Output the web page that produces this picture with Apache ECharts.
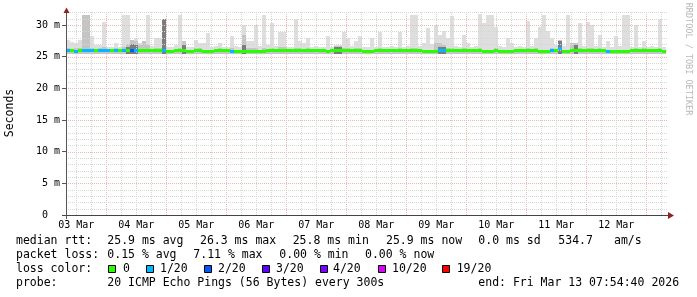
<!DOCTYPE html>
<html><head><meta charset="utf-8">
<script src="https://cdn.jsdelivr.net/npm/echarts@6/dist/echarts.min.js"></script>
<style>html,body{margin:0;padding:0;background:#fff}#c{width:697px;height:297px}</style>
</head><body><div id="c"></div>
<script>
// ---- time frame (hours since 03 Mar 00:00) ----
const startHour = 7 + 54/60 + 40/3600;   // 03 Mar 07:54:40
const spanHours = 240;                    // 10 days
const slotHours = 1.6;                    // 96-minute buckets
const yMax = 32.1;
const dayLabels = ['03 Mar','04 Mar','05 Mar','06 Mar','07 Mar','08 Mar','09 Mar','10 Mar','11 Mar','12 Mar'];
const yTicks = [0,5,10,15,20,25,30];

// ---- smoke (ms) per bucket ----
const smokeMax = [
27.6,27.3,27.2,27.6,31.6,31.6,28.2,26.8,26.9,30.5,
26.6,26.6,27.1,26.6,31.6,31.6,27.6,27.9,27.1,27.4,
31.6,26.7,28.0,28.0,30.9,26.6,26.6,26.8,31.6,27.4,
26.6,26.6,27.7,27.1,27.1,28.7,26.6,26.7,27.1,26.6,
26.6,28.2,26.7,26.6,30.0,27.4,27.4,30.0,26.7,31.6,
26.8,30.3,26.7,28.9,28.9,26.6,26.6,31.0,27.4,27.2,
27.9,26.6,26.7,26.6,26.6,28.2,26.6,26.9,26.8,28.9,
27.9,26.7,27.4,28.2,26.6,26.6,27.9,26.6,28.9,26.6,
26.6,26.7,26.6,28.9,26.6,26.7,31.6,31.6,26.7,27.1,
29.5,27.0,30.0,28.4,29.0,27.9,31.4,26.7,26.6,28.4,
27.1,26.6,26.7,31.7,30.3,31.6,31.6,29.7,26.7,26.6,
27.9,27.1,26.6,26.7,26.6,30.6,26.7,27.9,29.7,31.6,
29.0,28.0,26.8,27.7,26.7,31.6,27.1,27.1,30.3,26.7,
30.5,30.0,26.7,28.4,26.6,27.4,26.6,28.2,26.7,31.6,
31.6,26.6,30.0,26.6,27.4,26.6,26.7,26.6,31.0,26.6];
const smokeMid = [
26.3,26.2,26.3,26.3,31.6,31.6,26.4,26.2,26.3,26.6,
26.2,26.2,26.3,26.2,26.5,27.0,27.6,27.4,26.8,27.4,
26.8,26.2,26.4,26.4,30.9,26.0,26.0,26.2,26.3,27.4,
26.0,26.0,26.3,26.3,26.0,26.0,26.0,26.2,26.3,26.2,
26.2,26.4,26.1,26.1,28.5,26.4,26.3,26.3,26.1,26.3,
26.2,26.3,26.2,26.5,26.5,26.2,26.2,26.3,26.3,26.2,
26.3,26.2,26.2,26.2,26.2,26.0,26.2,26.7,26.7,26.4,
26.3,26.2,26.3,26.3,26.0,26.0,26.0,26.2,26.3,26.2,
26.2,26.2,26.2,26.3,26.2,26.2,26.4,26.4,26.2,26.0,
26.0,26.0,27.1,27.1,26.9,26.3,26.3,26.2,26.2,26.3,
26.2,26.2,26.2,26.4,26.0,26.0,26.0,26.3,26.0,26.0,
26.0,26.0,26.2,26.2,26.2,26.4,26.2,26.3,26.0,26.0,
26.0,26.3,26.2,27.7,26.0,26.0,27.1,27.1,26.3,26.2,
26.3,26.3,26.2,26.3,26.2,26.0,26.0,26.0,26.0,26.0,
26.0,26.2,26.3,26.2,26.3,26.2,26.2,26.2,26.3,26.0];
const smokeDeep = [
0,0,0,0,0,0,0,0,0,0,
0,0,0,0,0,26.6,27.0,26.8,0,0,
0,0,0,0,30.9,0,0,0,0,26.9,
0,0,0,0,0,0,0,0,0,0,
0,0,0,0,26.8,0,0,0,0,0,
0,0,0,0,0,0,0,0,0,0,
0,0,0,0,0,0,0,26.5,26.5,0,
0,0,0,0,0,0,0,0,0,0,
0,0,0,0,0,0,0,0,0,0,
0,0,0,26.6,26.5,0,0,0,0,0,
0,0,0,0,0,0,0,0,0,0,
0,0,0,0,0,0,0,0,0,0,
0,0,0,27.5,0,0,0,26.8,0,0,
0,0,0,0,0,0,0,0,0,0,
0,0,0,0,0,0,0,0,0,0];
const smokeMin = [
25.5,25.5,25.4,25.5,25.5,25.5,25.5,25.5,25.5,25.5,
25.5,25.5,25.5,25.5,25.5,25.5,25.5,25.5,25.5,25.5,
25.5,25.5,25.5,25.5,25.5,25.4,25.4,25.5,25.5,25.5,
25.4,25.4,25.5,25.5,25.4,25.4,25.4,25.5,25.5,25.5,
25.5,25.5,25.5,25.5,25.5,25.5,25.5,25.5,25.5,25.5,
25.5,25.5,25.5,25.5,25.5,25.5,25.5,25.5,25.5,25.5,
25.5,25.5,25.5,25.5,25.5,25.4,25.5,25.5,25.5,25.5,
25.5,25.5,25.5,25.5,25.4,25.4,25.4,25.5,25.5,25.5,
25.5,25.5,25.5,25.5,25.5,25.5,25.5,25.5,25.5,25.4,
25.4,25.4,25.4,25.5,25.5,25.5,25.5,25.5,25.5,25.5,
25.5,25.5,25.5,25.5,25.4,25.4,25.4,25.5,25.4,25.4,
25.4,25.4,25.5,25.5,25.5,25.5,25.5,25.5,25.4,25.4,
25.4,25.5,25.5,25.5,25.4,25.4,25.5,25.5,25.5,25.5,
25.5,25.5,25.5,25.5,25.5,25.4,25.4,25.4,25.4,25.4,
25.4,25.5,25.5,25.5,25.5,25.5,25.5,25.5,25.5,25.4];
// ---- median rtt (ms) and loss colour index per bucket ----
const medianRtt = [
25.9,25.9,25.75,25.9,25.9,25.9,25.9,25.9,25.9,25.9,
25.9,25.9,25.9,25.9,25.9,25.9,25.9,25.9,25.9,25.9,
25.9,25.9,25.9,25.9,25.9,25.75,25.75,25.9,25.9,25.9,
25.75,25.75,25.9,25.9,25.75,25.75,25.75,25.9,25.9,25.9,
25.9,25.8,25.8,25.8,25.8,25.8,25.8,25.8,25.8,25.8,
25.9,25.9,25.9,25.9,25.9,25.9,25.9,25.9,25.9,25.9,
25.9,25.9,25.9,25.9,25.9,25.75,25.9,25.9,25.9,25.9,
25.9,25.9,25.9,25.9,25.75,25.75,25.75,25.9,25.9,25.9,
25.9,25.9,25.9,25.9,25.9,25.9,25.9,25.9,25.9,25.75,
25.75,25.75,25.75,25.9,25.9,25.9,25.9,25.9,25.9,25.9,
25.9,25.9,25.9,25.9,25.75,25.75,25.75,25.9,25.75,25.75,
25.75,25.75,25.9,25.9,25.9,25.9,25.9,25.9,25.75,25.75,
25.75,25.9,25.9,26.3,25.75,25.75,25.9,25.9,25.9,25.9,
25.9,25.9,25.9,25.9,25.9,25.75,25.75,25.75,25.75,25.75,
25.75,25.9,25.9,25.9,25.9,25.9,25.9,25.9,25.9,25.75];
const lossIdx = [
1,0,1,0,1,1,1,0,1,1,
1,0,1,0,1,0,2,1,0,0,
0,0,0,0,1,0,0,0,0,0,
0,0,0,0,0,0,0,0,0,0,
0,1,0,0,0,0,0,0,0,0,
0,0,0,0,0,0,0,0,0,0,
0,0,0,0,0,0,0,0,0,0,
0,0,0,0,0,0,0,0,0,0,
0,0,0,0,0,0,0,0,0,0,
0,0,0,1,1,0,0,0,0,0,
0,0,0,0,0,0,0,0,0,0,
0,0,0,0,0,0,0,0,0,0,
0,1,0,1,0,0,0,0,0,0,
0,0,0,0,0,1,0,0,0,0,
0,0,0,0,0,0,0,0,0,0];
const lossColors = ['#26ff00','#00b8ff','#0059ff','#5e00ff','#7e00ff','#dd00ff','#ff0000'];
const lossLabels = ['0','1/20','2/20','3/20','4/20','10/20','19/20'];

const statRtt = ['25.9 ms avg','26.3 ms max','25.8 ms min','25.9 ms now','0.0 ms sd','534.7','am/s'];
const statLoss = ['0.15 % avg','7.11 % max','0.00 % min','0.00 % now'];
const probeText = '20 ICMP Echo Pings (56 Bytes) every 300s';
const endText = 'end: Fri Mar 13 07:54:40 2026';

// ---- derived ----
const noonHours = dayLabels.map((d,i)=>12+24*i);
const slotData = smokeMax.map((v,i)=>[startHour+i*slotHours, startHour+(i+1)*slotHours, smokeMin[i], v, smokeMid[i], smokeDeep[i], medianRtt[i], lossIdx[i]]);
const vGrid = []; for (let h = 6*Math.ceil(startHour/6); h < startHour+spanHours; h += 6) vGrid.push([h, h%24===0?1:0]);
const hGrid = []; for (let v = 1; v <= Math.floor(yMax); v++) hGrid.push([startHour, v, v%5===0?1:0]);

const MONO = 'DejaVu Sans Mono';
const chart = echarts.init(document.getElementById('c'), null, {renderer:'canvas'});

function rectOf(api, x0, x1, lo, hi, fill){
  const p0 = api.coord([x0, lo]), p1 = api.coord([x1, hi]);
  const X0 = Math.round(p0[0]), X1 = Math.round(p1[0]);
  const Y0 = Math.round(p0[1]), Y1 = Math.round(p1[1]);
  return {type:'rect', shape:{x:X0, y:Y1, width:X1-X0, height:Math.max(0,Y0-Y1)}, style:{fill}};
}

const graphics = [];
graphics.push({type:'line', shape:{x1:62,y1:215.5,x2:670,y2:215.5}, style:{stroke:'#444',lineWidth:1}, z:100});
graphics.push({type:'line', shape:{x1:66.5,y1:219,x2:66.5,y2:11}, style:{stroke:'#555',lineWidth:1}, z:100});
graphics.push({type:'polygon', shape:{points:[[668,212],[668,219],[674,215.5]]}, style:{fill:'#8e2323'}, z:101});
graphics.push({type:'polygon', shape:{points:[[63.5,13],[69.5,13],[66.5,7.5]]}, style:{fill:'#8e2323'}, z:101});
graphics.push({type:'text', x:10.5, y:113, rotation:Math.PI/2, style:{text:'Seconds', font:'11.5px "'+MONO+'"', fill:'#000', align:'center', verticalAlign:'middle'}});
graphics.push({type:'text', x:688.5, y:59, rotation:-Math.PI/2, style:{text:'RRDTOOL / TOBI OETIKER', font:'8.5px "'+MONO+'"', fill:'#b8b8b8', align:'center', verticalAlign:'middle'}});
function t(x, y, s){ graphics.push({type:'text', x, y, style:{text:s, font:'11.5px "'+MONO+'"', fill:'#000', align:'left', verticalAlign:'middle'}}); }
const rttX = [107.3,200,292.7,386,478.3,558.3,614];
t(16,241,'median rtt:'); statRtt.forEach((s,i)=>t(rttX[i],241,s));
const lossX = [107.3,193.3,279.3,365];
t(16,255,'packet loss:'); statLoss.forEach((s,i)=>t(lossX[i],255,s));
t(16,269,'loss color:');
const sqX = [108,146,204,262,320,378,442];
const lbX = [123,160,218,276,333,392,456.7];
lossLabels.forEach((s,i)=>{
  graphics.push({type:'rect', shape:{x:sqX[i]+0.5,y:265.5,width:7,height:7}, style:{fill:lossColors[i], stroke:'#000', lineWidth:1}});
  t(lbX[i],269,s);
});
t(16,283,'probe:'); t(107.3,283,probeText); t(478.3,283,endText);

chart.setOption({
  animation:false,
  backgroundColor:'#ffffff',
  grid:{left:66, right:31, top:215-yMax*(190/30), bottom:82, containLabel:false},
  xAxis:{type:'value', min:startHour, max:startHour+spanHours,
    axisLine:{show:false}, axisTick:{show:false}, splitLine:{show:false},
    axisLabel:{customValues:noonHours, formatter:v=>dayLabels[Math.round((v-12)/24)], fontFamily:MONO, fontSize:10, color:'#000', margin:5}},
  yAxis:{type:'value', min:0, max:yMax,
    axisLine:{show:false}, splitLine:{show:false},
    axisTick:{show:true, customValues:yTicks, length:4, lineStyle:{color:'#555'}},
    axisLabel:{customValues:yTicks, formatter:v=>v===0?'0  ':v+' m', fontFamily:MONO, fontSize:10, color:'#000', margin:6}},
  graphic:graphics,
  series:[
    {type:'custom', name:'smoke', z:2, clip:false, data:slotData, encode:{x:[0,1], y:[2,3]},
      renderItem:(params, api)=>{
        const x0=api.value(0), x1=api.value(1), lo=api.value(2), hi=api.value(3), mid=api.value(4), deep=api.value(5);
        const ch=[rectOf(api,x0,x1,lo,hi,'#dedede'), rectOf(api,x0,x1,lo,mid,'#c4c4c4')];
        if (deep>0) ch.push(rectOf(api,x0,x1,lo,deep,'#7c7c7c'));
        return {type:'group', children:ch};
      }},
    {type:'custom', name:'vgrid', z:3, clip:false, silent:true, data:vGrid, encode:{x:0, y:1},
      renderItem:(params, api)=>{
        const x=Math.round(api.coord([api.value(0),0])[0])+0.5;
        const yb=api.coord([startHour,0])[1], yt=api.coord([startHour,yMax])[1];
        return {type:'line', shape:{x1:x,y1:yb,x2:x,y2:yt}, style:{stroke:api.value(1)?'#f4b4b4':'#d6d6d6', lineWidth:1, lineDash:[1,1]}};
      }},
    {type:'custom', name:'hgrid', z:3, clip:false, silent:true, data:hGrid, encode:{x:0, y:1},
      renderItem:(params, api)=>{
        const y=Math.round(api.coord([startHour,api.value(1)])[1])+0.5;
        const xl=api.coord([startHour,0])[0], xr=api.coord([startHour+spanHours,0])[0]+2;
        return {type:'line', shape:{x1:xl,y1:y,x2:xr,y2:y}, style:{stroke:api.value(2)?'#f4b4b4':'#d6d6d6', lineWidth:1, lineDash:[1,1]}};
      }},
    {type:'custom', name:'median', z:4, clip:false, data:slotData, encode:{x:[0,1], y:6},
      renderItem:(params, api)=>{
        const p0=api.coord([api.value(0),api.value(6)]), p1=api.coord([api.value(1),api.value(6)]);
        const X0=Math.round(p0[0]), X1=Math.round(p1[0]), Y=Math.round(p0[1]-1.5);
        return {type:'rect', shape:{x:X0,y:Y,width:X1-X0,height:3}, style:{fill:lossColors[api.value(7)]}};
      }}
  ]
});
</script></body></html>
